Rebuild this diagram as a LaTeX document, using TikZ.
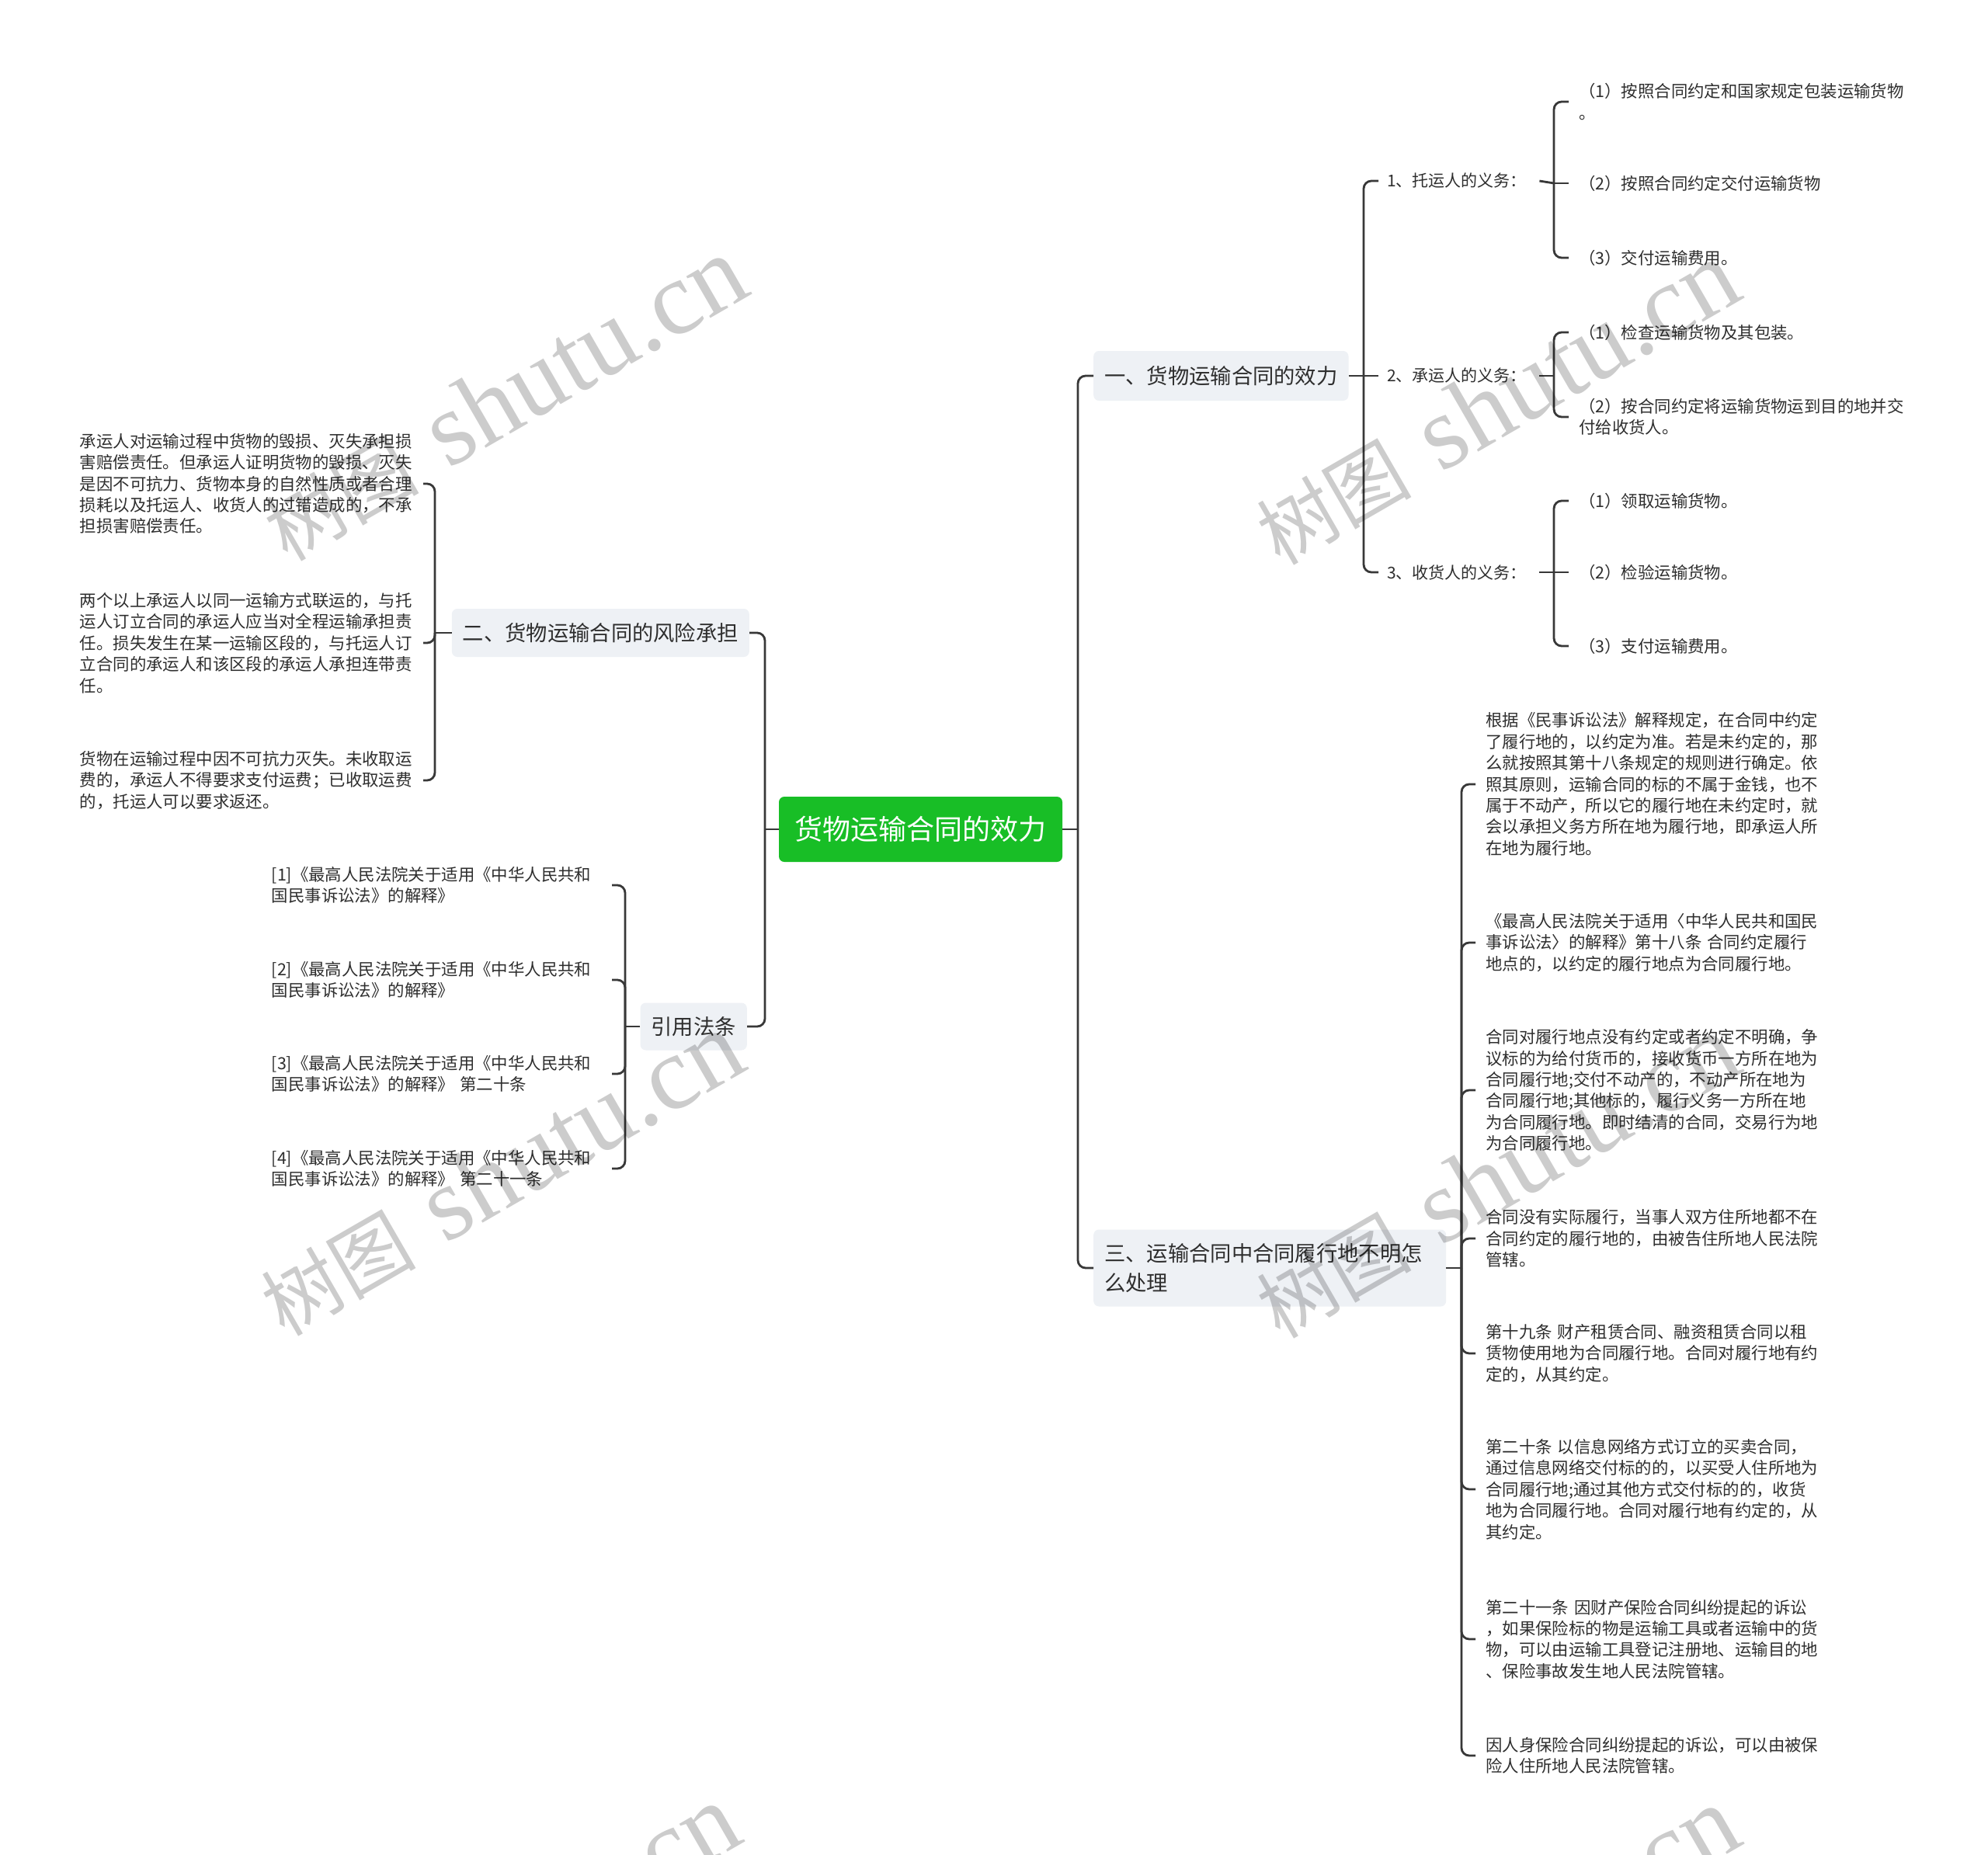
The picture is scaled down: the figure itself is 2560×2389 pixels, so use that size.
\documentclass[tikz,border=0pt]{standalone}
\usepackage{fontspec}
\setmainfont{Noto Sans CJK SC}
\newfontfamily\wmlatin{Liberation Serif}
\definecolor{rootc}{HTML}{18BE26}
\definecolor{boxc}{HTML}{EEF1F5}
\definecolor{linec}{HTML}{383838}
\definecolor{txt}{HTML}{2E2E2E}
\tikzset{
  conn/.style={draw=linec, line width=2.8pt, rounded corners=10pt},
  rootnode/.style={fill=rootc, text=white, rounded corners=7pt, minimum width=365pt, minimum height=84pt, inner sep=0pt, font=\fontsize{36}{40}\selectfont},
  topicbox/.style={fill=boxc, text=txt, rounded corners=7pt, inner xsep=14pt, inner ysep=0pt, align=left, font=\fontsize{27.3}{38}\selectfont},
  subtopic/.style={text=txt, inner xsep=11pt, inner ysep=0pt, text width=185pt, align=left, font=\fontsize{21}{27.4}\selectfont},
  leafnode/.style={text=txt, inner xsep=13pt, inner ysep=0pt, text width=430pt, align=left, font=\fontsize{21.4}{27.4}\selectfont},
  refleaf/.style={leafnode, inner xsep=12pt, text width=426pt, font=\fontsize{21.4}{26.7}\selectfont},
  wmark/.style={text=black, opacity=0.2, inner sep=0pt, rotate=30},
}
\newcommand{\wmtext}{{\fontsize{100}{100}\selectfont 树图}\hspace{40pt}{\wmlatin\fontsize{135}{135}\selectfont shutu.cn}}
\begin{document}
\begin{tikzpicture}[x=1pt,y=-1pt]
\fill[white] (0,0) rectangle (2560,2389);
\useasboundingbox (0,0) rectangle (2560,2389);

% root
\node[rootnode] (root) at (1185.5,1068) {货物运输合同的效力};

% level 1
\node[topicbox, anchor=west, minimum height=64pt] (b1) at (1408,484) {一、货物运输合同的效力};
\node[topicbox, anchor=east, minimum height=62pt] (b2) at (965,815) {二、货物运输合同的风险承担};
\node[topicbox, anchor=west, minimum height=99pt, text width=426pt] (b3) at (1408,1633) {三、运输合同中合同履行地不明怎\\么处理};
\node[topicbox, anchor=east, minimum height=61pt] (b4) at (962,1322) {引用法条};

\coordinate (JR) at (1388,1068);
\coordinate (JL) at (985,1068);
\draw[conn] (root.east) -- (JR);
\draw[conn] (b1.west) -| (JR) |- (b3.west);
\draw[conn] (root.west) -- (JL);
\draw[conn] (b2.east) -| (JL) |- (b4.east);

% level 2 under b1
\node[subtopic, anchor=west] (m1) at (1775,233) {1、托运人的义务：};
\node[subtopic, anchor=west] (m2) at (1775,484) {2、承运人的义务：};
\node[subtopic, anchor=west] (m3) at (1775,737) {3、收货人的义务：};
\coordinate (J1) at (1756,484);
\draw[conn] (b1.east) -- (m2.west);
\draw[conn] (m1.west) -| (J1) |- (m3.west);

% leaves of m1
\node[leafnode, anchor=west] (n11) at (2020,131) {（1）按照合同约定和国家规定包装运输货物\\。};
\node[leafnode, anchor=west] (n12) at (2020,236) {（2）按照合同约定交付运输货物};
\node[leafnode, anchor=west] (n13) at (2020,332) {（3）交付运输费用。};
\coordinate (Jm1) at (2001,236);
\draw[conn] (m1.east) -- (Jm1);
\draw[conn] (Jm1) -- (n12.west);
\draw[conn] (n11.west) -| (Jm1) |- (n13.west);

% leaves of m2
\node[leafnode, anchor=west] (n21) at (2020,428) {（1）检查运输货物及其包装。};
\node[leafnode, anchor=west] (n22) at (2020,537) {（2）按合同约定将运输货物运到目的地并交\\付给收货人。};
\coordinate (Jm2) at (2001,484);
\draw[conn] (m2.east) -- (Jm2);
\draw[conn] (n21.west) -| (Jm2) |- (n22.west);

% leaves of m3
\node[leafnode, anchor=west] (n31) at (2020,645) {（1）领取运输货物。};
\node[leafnode, anchor=west] (n32) at (2020,737) {（2）检验运输货物。};
\node[leafnode, anchor=west] (n33) at (2020,832) {（3）支付运输费用。};
\coordinate (Jm3) at (2001,737);
\draw[conn] (m3.east) -- (n32.west);
\draw[conn] (n31.west) -| (Jm3) |- (n33.west);

% leaves of b2
\node[leafnode, anchor=east, inner xsep=12pt] (l21) at (545,623) {承运人对运输过程中货物的毁损、灭失承担损\\害赔偿责任。但承运人证明货物的毁损、灭失\\是因不可抗力、货物本身的自然性质或者合理\\损耗以及托运人、收货人的过错造成的，不承\\担损害赔偿责任。};
\node[leafnode, anchor=east, inner xsep=12pt] (l22) at (545,828) {两个以上承运人以同一运输方式联运的，与托\\运人订立合同的承运人应当对全程运输承担责\\任。损失发生在某一运输区段的，与托运人订\\立合同的承运人和该区段的承运人承担连带责\\任。};
\node[leafnode, anchor=east, inner xsep=12pt] (l23) at (545,1005) {货物在运输过程中因不可抗力灭失。未收取运\\费的，承运人不得要求支付运费；已收取运费\\的，托运人可以要求返还。};
\coordinate (J2) at (560,815);
\draw[conn] (b2.west) -- (J2);
\draw[conn] (l21.east) -| (J2) |- (l23.east);
\draw[conn] (J2) |- (l22.east);

% leaves of b4
\node[refleaf, anchor=east] (r1) at (788,1140) {[1]《最高人民法院关于适用《中华人民共和\\国民事诉讼法》的解释》};
\node[refleaf, anchor=east] (r2) at (788,1262) {[2]《最高人民法院关于适用《中华人民共和\\国民事诉讼法》的解释》};
\node[refleaf, anchor=east] (r3) at (788,1383) {[3]《最高人民法院关于适用《中华人民共和\\国民事诉讼法》的解释》 第二十条};
\node[refleaf, anchor=east] (r4) at (788,1505) {[4]《最高人民法院关于适用《中华人民共和\\国民事诉讼法》的解释》 第二十一条};
\coordinate (J4) at (805,1322);
\draw[conn] (b4.west) -- (J4);
\draw[conn] (r1.east) -| (J4) |- (r4.east);
\draw[conn] (J4) |- (r2.east);
\draw[conn] (J4) |- (r3.east);

% leaves of b3
\node[leafnode, anchor=west] (p1) at (1900,1010) {根据《民事诉讼法》解释规定，在合同中约定\\了履行地的，以约定为准。若是未约定的，那\\么就按照其第十八条规定的规则进行确定。依\\照其原则，运输合同的标的不属于金钱，也不\\属于不动产，所以它的履行地在未约定时，就\\会以承担义务方所在地为履行地，即承运人所\\在地为履行地。};
\node[leafnode, anchor=west] (p2) at (1900,1214) {《最高人民法院关于适用〈中华人民共和国民\\事诉讼法〉的解释》第十八条~合同约定履行\\地点的，以约定的履行地点为合同履行地。};
\node[leafnode, anchor=west] (p3) at (1900,1404) {合同对履行地点没有约定或者约定不明确，争\\议标的为给付货币的，接收货币一方所在地为\\合同履行地;交付不动产的，不动产所在地为\\合同履行地;其他标的，履行义务一方所在地\\为合同履行地。即时结清的合同，交易行为地\\为合同履行地。};
\node[leafnode, anchor=west] (p4) at (1900,1595) {合同没有实际履行，当事人双方住所地都不在\\合同约定的履行地的，由被告住所地人民法院\\管辖。};
\node[leafnode, anchor=west] (p5) at (1900,1743) {第十九条~财产租赁合同、融资租赁合同以租\\赁物使用地为合同履行地。合同对履行地有约\\定的，从其约定。};
\node[leafnode, anchor=west] (p6) at (1900,1918) {第二十条~以信息网络方式订立的买卖合同，\\通过信息网络交付标的的，以买受人住所地为\\合同履行地;通过其他方式交付标的的，收货\\地为合同履行地。合同对履行地有约定的，从\\其约定。};
\node[leafnode, anchor=west] (p7) at (1900,2111) {第二十一条~因财产保险合同纠纷提起的诉讼\\，如果保险标的物是运输工具或者运输中的货\\物，可以由运输工具登记注册地、运输目的地\\、保险事故发生地人民法院管辖。};
\node[leafnode, anchor=west] (p8) at (1900,2261) {因人身保险合同纠纷提起的诉讼，可以由被保\\险人住所地人民法院管辖。};
\coordinate (J3) at (1882,1633);
\draw[conn] (b3.east) -- (J3);
\draw[conn] (p1.west) -| (J3) |- (p8.west);
\draw[conn] (J3) |- (p2.west);
\draw[conn] (J3) |- (p3.west);
\draw[conn] (J3) |- (p4.west);
\draw[conn] (J3) |- (p5.west);
\draw[conn] (J3) |- (p6.west);
\draw[conn] (J3) |- (p7.west);

% watermarks
\begin{scope}
\clip (0,0) rectangle (2560,2389);
\node[wmark] (wm1) at (649,514) {\wmtext};
\node[wmark] (wm2) at (1927,519) {\wmtext};
\node[wmark] (wm3) at (645,1512) {\wmtext};
\node[wmark] (wm4) at (1927,1515) {\wmtext};
\node[wmark] (wm5) at (640,2507) {\wmtext};
\node[wmark] (wm6) at (1927,2510) {\wmtext};
\end{scope}
\end{tikzpicture}
\end{document}
